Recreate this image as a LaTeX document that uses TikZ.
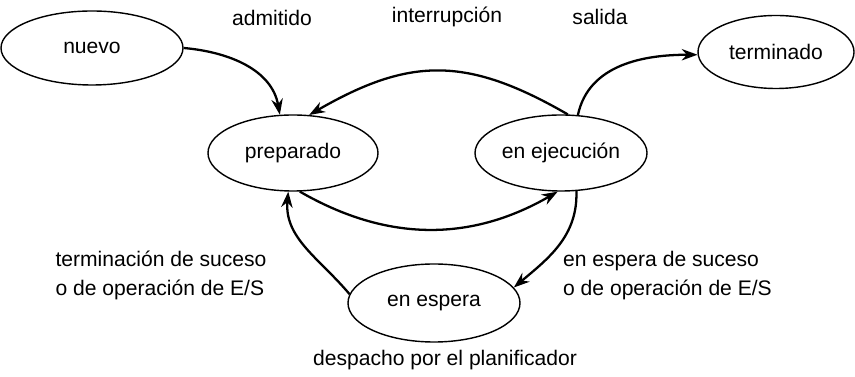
\documentclass[tikz,border=0pt]{standalone}
\usepackage{fontspec}
\setmainfont{Liberation Sans}
\usetikzlibrary{shapes.geometric,arrows.meta}

\begin{document}
\begin{tikzpicture}[
    estado/.style={draw, ellipse, line width=0.8pt, inner sep=0pt,
                   font=\fontsize{12}{14}\selectfont},
    etiqueta/.style={font=\fontsize{12}{16.5}\selectfont, align=left},
    flecha/.style={->, line width=1.3pt},
    >={Stealth[length=9pt,width=6.5pt]}]
  \useasboundingbox (0,0) rectangle (17.1,7.54);
  % estados
  \node (nuevo) at (1.84,6.58) [estado, minimum width=3.64cm, minimum height=1.48cm] {nuevo};
  \node (preparado) at (5.86,4.48) [estado, minimum width=3.4cm, minimum height=1.52cm] {preparado};
  \node (ejecucion) at (11.22,4.48) [estado, minimum width=3.44cm, minimum height=1.52cm] {en ejecución};
  \node (terminado) at (15.52,6.5) [estado, minimum width=3.12cm, minimum height=1.46cm] {terminado};
  \node (espera) at (8.68,1.48) [estado, minimum width=3.44cm, minimum height=1.56cm] {en espera};
  % transiciones
  \draw[flecha] (nuevo.east) to[out=-5, in=100] (preparado.109);
  \draw[flecha] (ejecucion.80) to[out=150, in=30, looseness=1.15] (preparado.67);
  \draw[flecha] (ejecucion.66) to[out=78, in=180] (terminado.182);
  \draw[flecha] (preparado.-80) to[out=-30, in=-150] (ejecucion.-95);
  \draw[flecha] (ejecucion.-68) to[out=-88, in=40] (espera.11);
  \draw[flecha] (espera.174) to[out=130, in=-95] (preparado.-97);
  % etiquetas
  \node (admitido) at (5.44,7.18) [etiqueta] {admitido};
  \node (interrupcion) at (8.94,7.2) [etiqueta] {interrupción};
  \node (salida) at (12.0,7.2) [etiqueta] {salida};
  \node (terminacion) at (3.22,2.03) [etiqueta] {terminación de suceso\\o de operación de E/S};
  \node (espsuceso) at (13.35,2.03) [etiqueta] {en espera de suceso\\o de operación de E/S};
  \node (despacho) at (8.9,0.33) [etiqueta] {despacho por el planificador};
\end{tikzpicture}
\end{document}
